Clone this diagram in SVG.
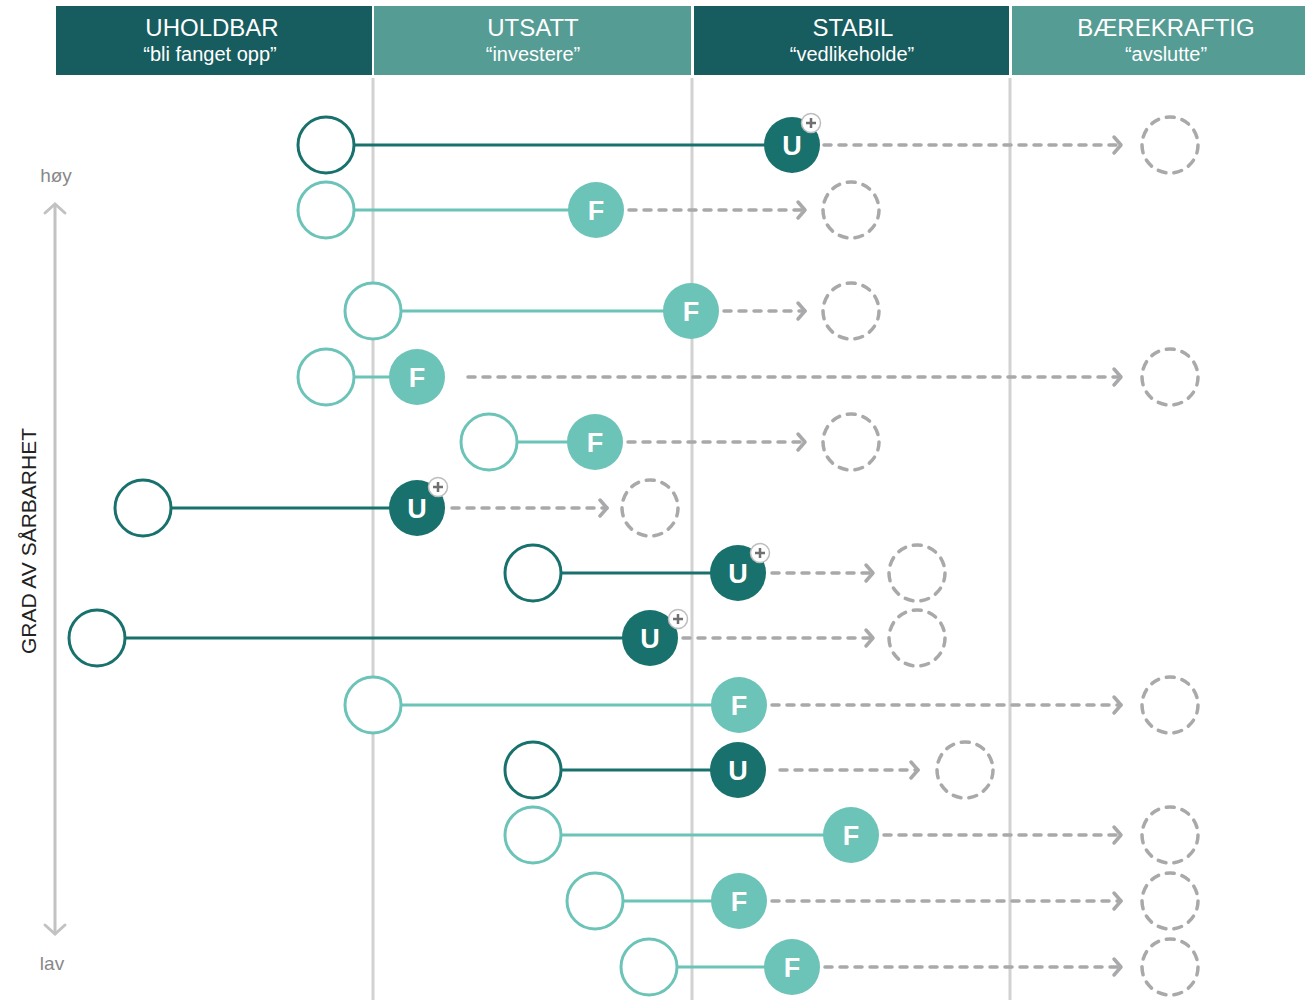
<svg xmlns="http://www.w3.org/2000/svg" width="1305" height="1000" viewBox="0 0 1305 1000">
<style>
.hd{fill:#175c5e}.hl{fill:#559c94}
.ht{font-family:"Liberation Sans",Arial,sans-serif;fill:#fff;text-anchor:middle}
.t1{font-size:24px}.t2{font-size:20px}
.col{stroke:#d2d2d2;stroke-width:3}
.od{fill:#fff;stroke:#18716d;stroke-width:3}
.ol{fill:#fff;stroke:#6cc3b8;stroke-width:3}
.ld{stroke:#18716d;stroke-width:3}
.ll{stroke:#6cc3b8;stroke-width:3}
.fd{fill:#18716d}.fl{fill:#6cc3b8}
.lt{font-family:"Liberation Sans",Arial,sans-serif;font-weight:bold;font-size:27px;fill:#fff;text-anchor:middle}
.dash{stroke:#a9a9ab;stroke-width:3.5;stroke-dasharray:7 8;stroke-linecap:round;fill:none;marker-end:url(#chev)}
.dc{fill:none;stroke:#a9a9ab;stroke-width:3.5;stroke-dasharray:8 8;stroke-linecap:round}
.axis{font-family:"Liberation Sans",Arial,sans-serif;fill:#888;text-anchor:middle}
</style>
<defs>
<marker id="chev" markerUnits="userSpaceOnUse" viewBox="-10 -10 20 20" refX="0" refY="0" markerWidth="20" markerHeight="20" orient="auto" overflow="visible">
<path d="M-7,-8 L0,0 L-7,8" fill="none" stroke="#a9a9ab" stroke-width="3.5" stroke-linecap="round" stroke-linejoin="round"/>
</marker>
<marker id="ax" markerUnits="userSpaceOnUse" viewBox="-12 -12 24 24" refX="0" refY="0" markerWidth="24" markerHeight="24" orient="auto-start-reverse" overflow="visible">
<path d="M-9,-10 L0,0 L-9,10" fill="none" stroke="#c2c2c2" stroke-width="3" stroke-linecap="round"/>
</marker>
<g id="plus">
<circle r="9.5" fill="#fff" stroke="#bdbdbd" stroke-width="1.5"/>
<path d="M-5,0 H5 M0,-5 V5" stroke="#707070" stroke-width="2.5"/>
</g>
</defs>
<rect width="1305" height="1000" fill="#fff"/>
<g id="header">
<rect class="hd" x="56" y="6" width="316" height="69"/>
<rect class="hl" x="374" y="6" width="317" height="69"/>
<rect class="hd" x="694" y="6" width="315" height="69"/>
<rect class="hl" x="1012" y="6" width="293" height="69"/>
<text class="ht t1" x="212" y="36">UHOLDBAR</text>
<text class="ht t2" x="210" y="61">“bli fanget opp”</text>
<text class="ht t1" x="533" y="36">UTSATT</text>
<text class="ht t2" x="533" y="61">“investere”</text>
<text class="ht t1" x="853" y="36">STABIL</text>
<text class="ht t2" x="852" y="61">“vedlikeholde”</text>
<text class="ht t1" x="1166" y="36">BÆREKRAFTIG</text>
<text class="ht t2" x="1166" y="61">“avslutte”</text>
</g>
<g id="columns">
<line class="col" x1="373" y1="78" x2="373" y2="1000"/>
<line class="col" x1="692" y1="78" x2="692" y2="1000"/>
<line class="col" x1="1010" y1="78" x2="1010" y2="1000"/>
</g>
<g id="axis">
<line x1="55" y1="204" x2="55" y2="934" stroke="#c2c2c2" stroke-width="3" marker-start="url(#ax)" marker-end="url(#ax)"/>
<text class="axis" x="56" y="182" font-size="19">høy</text>
<text class="axis" x="52" y="970" font-size="19">lav</text>
<text x="36" y="541" transform="rotate(-90 36 541)" font-family="Liberation Sans,Arial,sans-serif" font-size="21" fill="#222" text-anchor="middle">GRAD AV SÅRBARHET</text>
</g>
<g id="connectors">
<line class="ld" x1="326" y1="145" x2="792" y2="145"/>
<line class="ll" x1="326" y1="210" x2="596" y2="210"/>
<line class="ll" x1="373" y1="311" x2="691" y2="311"/>
<line class="ll" x1="326" y1="377" x2="417" y2="377"/>
<line class="ll" x1="489" y1="442" x2="595" y2="442"/>
<line class="ld" x1="143" y1="508" x2="417" y2="508"/>
<line class="ld" x1="533" y1="573" x2="738" y2="573"/>
<line class="ld" x1="97" y1="638" x2="650" y2="638"/>
<line class="ll" x1="373" y1="705" x2="739" y2="705"/>
<line class="ld" x1="533" y1="770" x2="738" y2="770"/>
<line class="ll" x1="533" y1="835" x2="851" y2="835"/>
<line class="ll" x1="595" y1="901" x2="739" y2="901"/>
<line class="ll" x1="649" y1="967" x2="792" y2="967"/>
<path class="dash" d="M824,145 H1121"/>
<path class="dash" d="M629,210 H805"/>
<path class="dash" d="M724,311 H805"/>
<path class="dash" d="M468,377 H1121"/>
<path class="dash" d="M628,442 H805"/>
<path class="dash" d="M452,508 H607"/>
<path class="dash" d="M772,573 H873"/>
<path class="dash" d="M683,638 H873"/>
<path class="dash" d="M772,705 H1121"/>
<path class="dash" d="M780,770 H918"/>
<path class="dash" d="M884,835 H1121"/>
<path class="dash" d="M772,901 H1121"/>
<path class="dash" d="M825,967 H1121"/>
</g>
<g id="row1"><circle class="od" cx="326" cy="145" r="28"/><circle class="fd" cx="792" cy="145" r="28"/><text class="lt" x="792" y="155">U</text><use href="#plus" x="811" y="123"/><circle class="dc" cx="1170" cy="145" r="28"/></g>
<g id="row2"><circle class="ol" cx="326" cy="210" r="28"/><circle class="fl" cx="596" cy="210" r="28"/><text class="lt" x="596" y="220">F</text><circle class="dc" cx="851" cy="210" r="28"/></g>
<g id="row3"><circle class="ol" cx="373" cy="311" r="28"/><circle class="fl" cx="691" cy="311" r="28"/><text class="lt" x="691" y="321">F</text><circle class="dc" cx="851" cy="311" r="28"/></g>
<g id="row4"><circle class="ol" cx="326" cy="377" r="28"/><circle class="fl" cx="417" cy="377" r="28"/><text class="lt" x="417" y="387">F</text><circle class="dc" cx="1170" cy="377" r="28"/></g>
<g id="row5"><circle class="ol" cx="489" cy="442" r="28"/><circle class="fl" cx="595" cy="442" r="28"/><text class="lt" x="595" y="452">F</text><circle class="dc" cx="851" cy="442" r="28"/></g>
<g id="row6"><circle class="od" cx="143" cy="508" r="28"/><circle class="fd" cx="417" cy="508" r="28"/><text class="lt" x="417" y="518">U</text><use href="#plus" x="438" y="487"/><circle class="dc" cx="650" cy="508" r="28"/></g>
<g id="row7"><circle class="od" cx="533" cy="573" r="28"/><circle class="fd" cx="738" cy="573" r="28"/><text class="lt" x="738" y="583">U</text><use href="#plus" x="760" y="553"/><circle class="dc" cx="917" cy="573" r="28"/></g>
<g id="row8"><circle class="od" cx="97" cy="638" r="28"/><circle class="fd" cx="650" cy="638" r="28"/><text class="lt" x="650" y="648">U</text><use href="#plus" x="678" y="619"/><circle class="dc" cx="917" cy="638" r="28"/></g>
<g id="row9"><circle class="ol" cx="373" cy="705" r="28"/><circle class="fl" cx="739" cy="705" r="28"/><text class="lt" x="739" y="715">F</text><circle class="dc" cx="1170" cy="705" r="28"/></g>
<g id="row10"><circle class="od" cx="533" cy="770" r="28"/><circle class="fd" cx="738" cy="770" r="28"/><text class="lt" x="738" y="780">U</text><circle class="dc" cx="965" cy="770" r="28"/></g>
<g id="row11"><circle class="ol" cx="533" cy="835" r="28"/><circle class="fl" cx="851" cy="835" r="28"/><text class="lt" x="851" y="845">F</text><circle class="dc" cx="1170" cy="835" r="28"/></g>
<g id="row12"><circle class="ol" cx="595" cy="901" r="28"/><circle class="fl" cx="739" cy="901" r="28"/><text class="lt" x="739" y="911">F</text><circle class="dc" cx="1170" cy="901" r="28"/></g>
<g id="row13"><circle class="ol" cx="649" cy="967" r="28"/><circle class="fl" cx="792" cy="967" r="28"/><text class="lt" x="792" y="977">F</text><circle class="dc" cx="1170" cy="967" r="28"/></g>
</svg>
